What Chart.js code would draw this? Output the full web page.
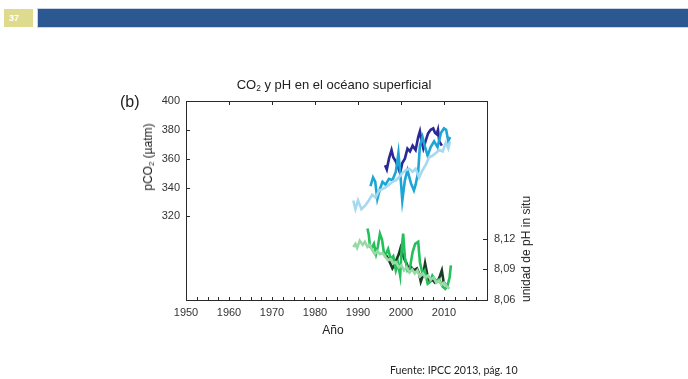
<!DOCTYPE html>
<html>
<head>
<meta charset="utf-8">
<script src="https://cdn.jsdelivr.net/npm/chart.js@4/dist/chart.umd.min.js"></script>
<style>
  html, body { margin: 0; padding: 0; background: #fff; }
  #page { position: relative; width: 688px; height: 379px; overflow: hidden; font-family: "Liberation Sans", Arial, sans-serif; color: #222; }
  #c { position: absolute; left: 0; top: 0; }
  .slide-num { position: absolute; left: 4px; top: 9px; width: 29px; height: 18px; background: #dedb8e; color: #fff; font: bold 9px "Liberation Sans", Arial, sans-serif; line-height: 18px; padding-left: 5px; box-sizing: border-box; }
  .slide-bar { position: absolute; left: 38px; top: 9px; width: 650px; height: 18px; background: #2b5891; box-shadow: 0 0 0 1px #c9d5e3; }
  .txt { position: absolute; white-space: nowrap; }
  .rot { transform: translate(-50%, -50%) rotate(-90deg); }
  sub { font-size: 65%; vertical-align: -0.25em; line-height: 0; }
</style>
</head>
<body>
<div id="page">
  <div class="slide-num">37</div>
  <div class="slide-bar"></div>
  <canvas id="c" width="688" height="379"></canvas>
  <div class="txt" style="left:334px; top:84px; transform:translate(-50%,-50%); font-size:13px;">CO<sub>2</sub> y pH en el océano superficial</div>
  <div class="txt" style="left:120px; top:93px; font-size:16px;">(b)</div>
  <div class="txt rot" style="left:148px; top:157px; font-size:12px;">pCO<sub>2</sub> (µatm)</div>
  <div class="txt rot" style="left:526px; top:249px; font-size:12px;">unidad de pH in situ</div>
  <div class="txt" style="left:333px; top:330px; transform:translate(-50%,-50%); font-size:12px;">Año</div>
  <div class="txt" style="left:390px; top:364px; font:10.6px Lato, 'Open Sans', sans-serif; color:#222;">Fuente: IPCC 2013, pág. 10</div>
</div>
<script>
// Surface-ocean pCO2 series (µatm)
const paleBlueYears = [1988.9,1989.4,1990.0,1990.8,1991.8,1992.5,1993.3,1994.1,1994.9,1995.7,1996.4,1997.2,1998.0,1998.8,1999.5,2000.3,2001.1,2001.9,2002.7,2003.4,2004.2,2005.0,2005.8,2006.5,2007.3,2008.1,2008.9,2009.7,2010.4,2011.0,2011.4];
const paleBluePCO2  = [331,325,331,325,328,331,335,333,338,339,340,342,344,345,347,350,352,353,351,353,347,352,356,361,362,364,366,365,371,367,372];

const cyanYears = [1992.9,1993.5,1994.0,1994.5,1995.1,1995.7,1996.4,1997.2,1998.0,1998.8,1999.4,1999.9,2000.3,2000.9,2001.5,2002.3,2003.0,2003.4,2004.0,2004.4,2005.0,2005.5,2006.2,2006.9,2007.7,2008.5,2009.3,2010.0,2010.5,2011.0,2011.4];
const cyanPCO2  = [341,347,344,332,339,344,342,346,345,351,364,347,331,345,352,343,338,342,351,369,375,369,362,368,372,368,378,381,380,372,375];

const navyYears = [1996.3,1996.7,1997.2,1997.8,1998.2,1998.8,1999.3,1999.8,2000.3,2000.9,2001.5,2002.1,2002.7,2003.4,2004.0,2004.4,2004.8,2005.2,2005.8,2006.3,2006.9,2007.5,2007.9,2008.3,2008.6,2008.9,2009.5];
const navyPCO2  = [355.5,352.5,360,366,361,358,354,350,357,360,367,365,369,366,375,379,372,367,373,377.5,380,381,378,377,380,372,369];

// Surface-ocean pH series (in situ)
const paleGreenYears = [1988.9,1989.4,1989.8,1990.4,1991.1,1991.6,1992.2,1992.7,1993.3,1993.9,1994.5,1995.1,1995.7,1996.4,1997.0,1997.6,1998.2,1998.8,1999.5,2000.1,2000.7,2001.3,2002.0,2002.6,2003.2,2003.8,2004.4,2005.1,2005.7,2006.3,2006.9,2007.6,2008.2,2008.8,2009.4,2010.0,2010.7,2011.3];
const paleGreenPH    = [8.112,8.115,8.111,8.118,8.114,8.117,8.112,8.114,8.109,8.105,8.108,8.105,8.106,8.102,8.099,8.100,8.096,8.097,8.092,8.094,8.089,8.092,8.087,8.090,8.086,8.089,8.083,8.086,8.082,8.084,8.080,8.082,8.077,8.079,8.075,8.077,8.073,8.071];

const greenYears = [1992.2,1992.5,1992.8,1993.2,1993.7,1994.2,1994.6,1995.1,1995.6,1996.0,1996.5,1997.0,1997.6,1998.2,1998.8,1999.3,1999.8,2000.2,2000.5,2000.9,2001.5,2002.1,2002.7,2003.3,2004.0,2004.4,2005.0,2005.5,2006.2,2006.8,2007.3,2008.1,2008.9,2009.7,2010.3,2010.8,2011.3,2011.6];
const greenPH    = [8.130,8.124,8.112,8.111,8.115,8.105,8.112,8.125,8.119,8.107,8.105,8.110,8.100,8.103,8.089,8.096,8.084,8.112,8.125,8.102,8.089,8.092,8.107,8.115,8.117,8.097,8.086,8.089,8.076,8.078,8.084,8.079,8.080,8.073,8.071,8.074,8.082,8.094];

const darkGreenYears = [1996.3,1996.8,1997.4,1998.0,1998.4,1999.0,1999.5,1999.9,2000.4,2000.9,2001.3,2001.9,2002.4,2003.0,2003.7,2004.2,2004.6,2005.1,2005.6,2006.2,2006.7,2007.3,2007.9,2008.5,2009.1,2009.5,2009.9,2010.4];
const darkGreenPH    = [8.105,8.102,8.097,8.091,8.094,8.100,8.105,8.111,8.104,8.099,8.096,8.089,8.092,8.089,8.091,8.086,8.078,8.084,8.096,8.083,8.078,8.080,8.077,8.078,8.084,8.089,8.078,8.075];

// Axis ticks
const yearTicks = [1950,1960,1970,1980,1990,2000,2010];
const pco2Ticks = [320,340,360,380,400];
const phTicks   = [8.06,8.09,8.12];

const pts = (xs, ys) => xs.map((x, i) => ({ x: x, y: ys[i] }));

const AXIS_FONT = { family: '"Liberation Sans", Arial, sans-serif', size: 11 };
const INK = '#333333';

const frameAndTicks = {
  id: 'frameAndTicks',
  afterDraw(chart) {
    const { ctx, chartArea: a, scales } = chart;
    ctx.save();
    ctx.strokeStyle = '#2a2a2a';
    ctx.lineWidth = 1;
    ctx.strokeRect(Math.round(a.left) + 0.5, Math.round(a.top) + 0.5, Math.round(a.right - a.left), Math.round(a.bottom - a.top));
    ctx.beginPath();
    // minor ticks along the bottom, every 2.5 years
    for (let yr = 1950; yr <= 2020; yr += 2.5) {
      const x = Math.round(scales.x.getPixelForValue(yr)) + 0.5;
      ctx.moveTo(x, a.bottom); ctx.lineTo(x, a.bottom - 3);
    }
    // decade ticks along the top
    for (let yr = 1960; yr < 2020; yr += 10) {
      const x = Math.round(scales.x.getPixelForValue(yr)) + 0.5;
      ctx.moveTo(x, a.top); ctx.lineTo(x, a.top + 4);
    }
    pco2Ticks.forEach(v => {
      const y = Math.round(scales.y.getPixelForValue(v)) + 0.5;
      ctx.moveTo(a.left, y); ctx.lineTo(a.left + 4, y);
    });
    phTicks.forEach(v => {
      const y = Math.round(scales.y2.getPixelForValue(v)) + 0.5;
      ctx.moveTo(a.right, y); ctx.lineTo(a.right - 4, y);
    });
    ctx.stroke();
    ctx.restore();
  }
};

const line = (label, data, color, axis) => ({
  label, data, yAxisID: axis,
  borderColor: color, backgroundColor: color,
  borderWidth: 2.6, pointRadius: 0, tension: 0, fill: false
});

new Chart(document.getElementById('c'), {
  type: 'line',
  data: {
    datasets: [
      line('pCO2 BATS', pts(paleBlueYears, paleBluePCO2), '#a6d9f1', 'y'),
      line('pCO2 ALOHA', pts(cyanYears, cyanPCO2), '#1ba6d6', 'y'),
      line('pCO2 ESTOC', pts(navyYears, navyPCO2), '#2b2796', 'y'),
      line('pH BATS', pts(paleGreenYears, paleGreenPH), '#98d9a5', 'y2'),
      line('pH ALOHA', pts(greenYears, greenPH), '#25bf5c', 'y2'),
      line('pH ESTOC', pts(darkGreenYears, darkGreenPH), '#1c3b23', 'y2')
    ]
  },
  options: {
    responsive: false,
    animation: false,
    devicePixelRatio: 1,
    layout: { padding: { top: 101, left: 0, right: 0, bottom: 0 } },
    plugins: { legend: { display: false }, tooltip: { enabled: false }, title: { display: false } },
    scales: {
      x: {
        type: 'linear', position: 'bottom', min: 1950, max: 2020,
        afterBuildTicks: s => { s.ticks = yearTicks.map(v => ({ value: v })); },
        afterFit: s => { s.height = 79; },
        ticks: { font: AXIS_FONT, color: INK, padding: 6, maxRotation: 0, autoSkip: false, callback: v => String(v) },
        grid: { display: false, drawTicks: false },
        border: { display: false }
      },
      y: {
        type: 'linear', position: 'left', min: 262, max: 400,
        afterBuildTicks: s => { s.ticks = pco2Ticks.map(v => ({ value: v })); },
        afterFit: s => { s.width = 186; },
        ticks: { font: AXIS_FONT, color: INK, padding: 6, autoSkip: false, callback: v => String(v) },
        grid: { display: false, drawTicks: false },
        border: { display: false }
      },
      y2: {
        type: 'linear', position: 'right', min: 8.06, max: 8.255,
        afterBuildTicks: s => { s.ticks = phTicks.map(v => ({ value: v })); },
        afterFit: s => { s.width = 201; },
        ticks: { font: AXIS_FONT, color: INK, padding: 7, autoSkip: false, callback: v => v.toFixed(2).replace('.', ',') },
        grid: { display: false, drawTicks: false },
        border: { display: false }
      }
    }
  },
  plugins: [frameAndTicks]
});
</script>
</body>
</html>
